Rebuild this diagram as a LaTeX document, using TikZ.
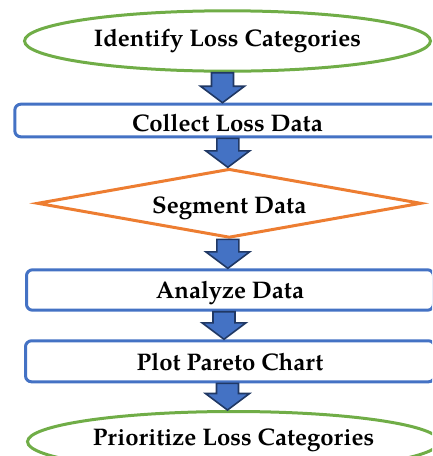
\documentclass[tikz,border=0pt]{standalone}
\usepackage{fontspec}
\setmainfont{TeX Gyre Pagella}
\usetikzlibrary{shapes.geometric,calc}
\definecolor{cgreen}{HTML}{70AD47}
\definecolor{cblue}{HTML}{4472C4}
\definecolor{corange}{HTML}{ED7D31}
\definecolor{cdark}{HTML}{203864}
\newcommand{\blockarrow}[3]{%
  \draw[barrow] let \p1=(#1.south), \p2=(#2.north) in
    ({#3pt-11pt},{\y1}) -- ({#3pt+11pt},{\y1}) -- ({#3pt+11pt},{\y2+16.5pt})
    -- ({#3pt+22pt},{\y2+16.5pt}) -- ({#3pt},{\y2}) -- ({#3pt-22pt},{\y2+16.5pt})
    -- ({#3pt-11pt},{\y2+16.5pt}) -- cycle;}
\begin{document}
\begin{tikzpicture}[x=1pt,y=1pt,
  lbl/.style={font=\fontsize{24}{28}\selectfont\bfseries, text depth=0pt, text height=#1},
  ell/.style={ellipse, draw=cgreen, line width=3pt, inner sep=0pt},
  box/.style={rectangle, rounded corners=6pt, draw=cblue, line width=3pt, inner sep=0pt},
  dia/.style={diamond, draw=corange, line width=3pt, inner sep=0pt, aspect=5.57},
  barrow/.style={fill=cblue, draw=cdark, line width=1.6pt, line join=miter}]
\useasboundingbox (0,0) rectangle (432,-456);
\clip (0,0) rectangle (432,-456);
\node[ell, lbl=11.4pt, minimum width=406pt, minimum height=60.4pt] (n1) at (227.5,-41) {Identify Loss Categories};
\node[box, lbl=21pt, minimum width=425.4pt, minimum height=32.6pt] (n2) at (227.5,-120.5) {Collect Loss Data};
\node[dia, lbl=20pt, minimum width=384pt, minimum height=69pt] (n3) at (229.2,-203.3) {Segment Data};
\node[box, lbl=16pt, minimum width=407pt, minimum height=40.4pt] (n4) at (230,-290) {Analyze Data};
\node[box, lbl=17.4pt, minimum width=409pt, minimum height=41pt] (n5) at (230,-361.3) {Plot Pareto Chart};
\node[ell, lbl=8pt, minimum width=412pt, minimum height=60.4pt] (n6) at (233.5,-441.7) {Prioritize Loss Categories};
\blockarrow{n1}{n2}{222.5}
\blockarrow{n2}{n3}{227.8}
\blockarrow{n3}{n4}{227.8}
\blockarrow{n4}{n5}{224}
\blockarrow{n5}{n6}{227.5}
\end{tikzpicture}
\end{document}
